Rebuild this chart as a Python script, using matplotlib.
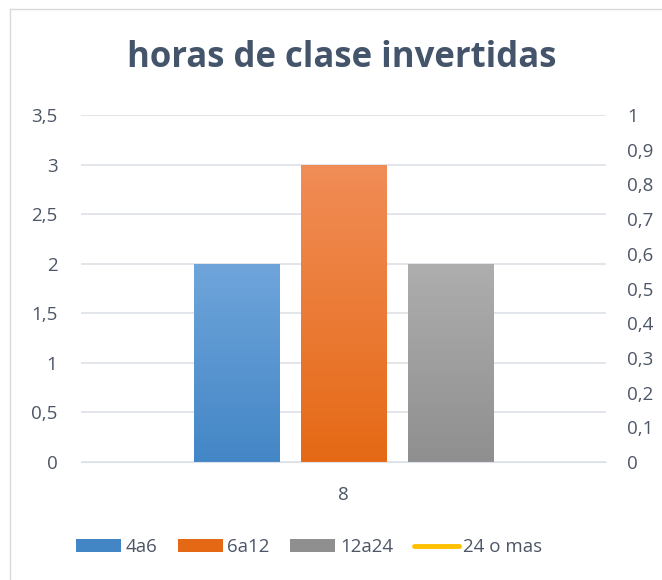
import matplotlib
matplotlib.use("Agg")
import matplotlib.pyplot as plt
import numpy as np
from matplotlib.patches import Rectangle
from matplotlib.lines import Line2D
from matplotlib.colors import LinearSegmentedColormap
from matplotlib.ticker import FuncFormatter

categories = ["8"]
series_names = ["4a6", "6a12", "12a24", "24 o mas"]
bar_values = [2, 3, 2]
line_values = [np.nan]
left_ticks = [0, 0.5, 1, 1.5, 2, 2.5, 3, 3.5]
right_ticks = [0, 0.1, 0.2, 0.3, 0.4, 0.5, 0.6, 0.7, 0.8, 0.9, 1]

grad_colors = [("#6FA5DB", "#4386C6"), ("#F18D57", "#E56915"), ("#AEAEAE", "#8F8F8F")]
line_color = "#FFC000"
text_color = "#4D5666"
title_color = "#44546A"
font = ["Open Sans", "DejaVu Sans"]
plt.rcParams["font.family"] = font

fig = plt.figure(figsize=(6.62, 5.8), dpi=100)
ax = fig.add_axes([81/662, 1-462/580, 525/662, (462-115)/580])
ax2 = ax.twinx()

x = np.arange(len(categories))
width = 0.162
offsets = [-0.204, 0.0, 0.204]
for i, (v, (ctop, cbot)) in enumerate(zip(bar_values, grad_colors)):
    xc = x[0] + offsets[i]
    cmap = LinearSegmentedColormap.from_list("g%d" % i, [cbot, ctop])
    grad = np.linspace(0, 1, 256).reshape(-1, 1)
    rect = Rectangle((xc - width/2, 0), width, v, facecolor="none", edgecolor="none")
    ax.add_patch(rect)
    im = ax.imshow(grad, cmap=cmap, origin="lower", aspect="auto",
                   extent=(xc - width/2, xc + width/2, 0, v), zorder=2)
    im.set_clip_path(rect)

ax2.plot(x, line_values, color=line_color, lw=3)

ax.set_xlim(-0.5, 0.5)
ax.set_ylim(0, 3.5)
ax2.set_ylim(0, 1)
ax.set_xticks(x)
ax.set_xticklabels(categories)
ax.set_yticks(left_ticks)
ax2.set_yticks(right_ticks)
fmt = FuncFormatter(lambda v, p: ("%g" % round(v, 2)).replace(".", ","))
ax.yaxis.set_major_formatter(fmt)
ax2.yaxis.set_major_formatter(fmt)

for a in (ax, ax2):
    for s in a.spines.values():
        s.set_visible(False)
    a.tick_params(length=0, colors=text_color, labelsize=13.5)
ax.tick_params(axis="y", pad=17)
ax2.tick_params(axis="y", pad=15)
ax.tick_params(axis="x", pad=17)
ax.grid(axis="y", color="#DDE1E8", lw=1.2, zorder=0)
ax.set_axisbelow(True)
ax.spines["bottom"].set_visible(True)
ax.spines["bottom"].set_color("#DDE1E8")

fig.text(342/662, 1-58/580, "horas de clase invertidas", ha="center", va="center",
         fontsize=25, fontweight="bold", color=title_color)

handles = [Rectangle((0, 0), 1, 1, facecolor=c[1]) for c in grad_colors]
handles.append(Line2D([0], [0], color=line_color, lw=3.5, solid_capstyle="round"))
leg = fig.legend(handles, series_names, loc="center", bbox_to_anchor=(309/662, 1-547/580),
                 ncol=4, frameon=False, fontsize=13.5, handlelength=2.4, handleheight=0.65,
                 handletextpad=0.25, columnspacing=1.1)
for t in leg.get_texts():
    t.set_color(text_color)

fig.add_artist(Line2D([10/662, 1], [1-9/580, 1-9/580], color="#D9D9D9", lw=1, transform=fig.transFigure))
fig.add_artist(Line2D([10/662, 10/662], [0, 1-9/580], color="#D9D9D9", lw=1, transform=fig.transFigure))

fig.savefig("out.png", dpi=100)
